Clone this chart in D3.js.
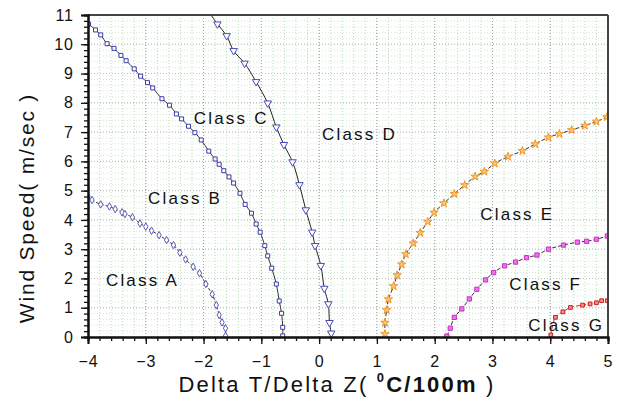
<!DOCTYPE html>
<html><head><meta charset="utf-8">
<script src="https://cdn.jsdelivr.net/npm/d3@7"></script>
<style>
html,body{margin:0;padding:0;background:#fff;}
svg{display:block;font-family:"Liberation Sans",Arial,sans-serif;}
</style></head>
<body><svg id="c" width="618" height="402"></svg>
<script>
// ---- data ----
const xTicks = [-4,-3,-2,-1,0,1,2,3,4,5];
const yTicks = [0,1,2,3,4,5,6,7,8,9,10,11];

const classAx = [-4.00,-3.93,-3.78,-3.63,-3.53,-3.41,-3.36,-3.23,-3.10,-3.00,-2.90,-2.77,-2.64,-2.52,-2.41,-2.31,-2.18,-2.07,-1.96,-1.85,-1.78,-1.73,-1.68,-1.62,-1.62];
const classAy = [4.80,4.68,4.53,4.46,4.37,4.26,4.20,4.09,3.88,3.77,3.63,3.48,3.31,3.14,2.88,2.65,2.40,2.18,1.81,1.46,1.09,0.75,0.50,0.30,0.04];

const classBx = [-3.99,-3.87,-3.78,-3.67,-3.55,-3.43,-3.34,-3.20,-3.09,-2.97,-2.88,-2.72,-2.59,-2.47,-2.38,-2.26,-2.15,-2.04,-1.91,-1.80,-1.73,-1.65,-1.56,-1.48,-1.37,-1.28,-1.17,-1.09,-1.02,-0.94,-0.89,-0.82,-0.74,-0.69,-0.65,-0.63,-0.63];
const classBy = [10.69,10.49,10.32,10.02,9.86,9.62,9.44,9.16,8.91,8.69,8.51,8.14,7.92,7.62,7.45,7.20,6.98,6.73,6.35,6.08,5.90,5.68,5.47,5.26,4.91,4.53,4.23,3.86,3.58,3.12,2.77,2.35,1.81,1.23,0.81,0.33,0.04];

const classCx = [-1.87,-1.76,-1.60,-1.48,-1.29,-1.09,-0.89,-0.74,-0.61,-0.46,-0.34,-0.23,-0.12,-0.07,0.03,0.09,0.16,0.18,0.21];
const classCy = [11.0,10.69,10.29,9.78,9.35,8.72,7.99,7.17,6.57,5.98,5.20,4.34,3.58,3.12,2.44,1.66,1.13,0.49,0.13];

const classEx = [1.14,1.14,1.17,1.20,1.29,1.35,1.43,1.50,1.63,1.75,1.88,1.99,2.16,2.34,2.52,2.70,2.86,3.04,3.27,3.52,3.74,3.97,4.16,4.37,4.60,4.80,4.98];
const classEy = [0.10,0.49,0.92,1.29,1.74,2.11,2.48,2.83,3.20,3.56,3.94,4.25,4.57,4.89,5.19,5.48,5.65,5.93,6.16,6.36,6.59,6.82,6.94,7.07,7.22,7.36,7.51];

const classFx = [2.21,2.27,2.34,2.47,2.60,2.73,2.88,3.02,3.21,3.40,3.59,3.77,3.97,4.23,4.47,4.63,4.80,4.99];
const classFy = [0.03,0.30,0.67,0.96,1.30,1.63,1.95,2.20,2.43,2.56,2.71,2.80,3.00,3.14,3.24,3.27,3.34,3.45];

const classGx = [4.01,4.09,4.22,4.35,4.56,4.69,4.80,4.89,4.99];
const classGy = [0.07,0.67,0.86,1.01,1.09,1.13,1.17,1.24,1.24];

const classLabels = ["Class A","Class B","Class C","Class D","Class E","Class F","Class G"];
const labelX = [-3.69,-2.96,-2.17,0.05,2.79,3.29,3.62];
const labelY = [1.74,4.54,7.28,6.73,4.0,1.6,0.2];

// ---- layout ----
const svg = d3.select("#c");
const L = 88, R = 608, T = 15, B = 337;
const x = d3.scaleLinear().domain([-4,5]).range([L,R]);
const y = d3.scaleLinear().domain([0,11]).range([B,T]);

// grid
const g = svg.append("g");
const minorX = d3.range(-4, 5.001, 0.2);
const minorY = d3.range(0, 11.001, 0.2);
g.selectAll(".gx").data(minorX).enter().append("line")
  .attr("x1",d=>x(d)).attr("x2",d=>x(d)).attr("y1",T).attr("y2",B)
  .attr("stroke","#b5e0b5").attr("stroke-width",1).attr("stroke-dasharray","1,2");
g.selectAll(".gy").data(minorY).enter().append("line")
  .attr("y1",d=>y(d)).attr("y2",d=>y(d)).attr("x1",L).attr("x2",R)
  .attr("stroke","#cfe8cf").attr("stroke-width",1).attr("stroke-dasharray","1,2");
g.selectAll(".gxm").data(xTicks).enter().append("line")
  .attr("x1",d=>x(d)).attr("x2",d=>x(d)).attr("y1",T).attr("y2",B)
  .attr("stroke","#a0a0a0").attr("stroke-width",1).attr("stroke-dasharray","1,2");
g.selectAll(".gym").data(yTicks).enter().append("line")
  .attr("y1",d=>y(d)).attr("y2",d=>y(d)).attr("x1",L).attr("x2",R)
  .attr("stroke","#b8b8b8").attr("stroke-width",1).attr("stroke-dasharray","1,2");

// clip
svg.append("clipPath").attr("id","clip").append("rect")
  .attr("x",L).attr("y",T).attr("width",R-L).attr("height",B-T);
const plot = svg.append("g").attr("clip-path","url(#clip)");

const lineX = d3.line().x(d=>x(d[0])).y(d=>y(d[1])).curve(d3.curveCatmullRom);
function zip(a,b){return a.map((v,i)=>[v,b[i]]);}

const series = [
  {xs:classAx, ys:classAy, stroke:"#333", dash:"3,2", mk:"diamond", col:"#5a5ab8", fill:"#fff", sz:16},
  {xs:classBx, ys:classBy, stroke:"#333", dash:null, mk:"square", col:"#3c3ca8", fill:"#fff", sz:16},
  {xs:classCx, ys:classCy, stroke:"#222", dash:null, mk:"tri", col:"#4a4ab8", fill:"#fff", sz:24},
  {xs:classEx, ys:classEy, stroke:"#333", dash:"4,2", mk:"star", col:"#f0962a", fill:"#f8c57a", sz:22},
  {xs:classFx, ys:classFy, stroke:"#333", dash:"4,2", mk:"square", col:"#c82cc8", fill:"#e878e8", sz:18},
  {xs:classGx, ys:classGy, stroke:"#d03030", dash:"4,2", mk:"square", col:"#d02020", fill:"#f09090", sz:14}
];
const symMap = {diamond:d3.symbolDiamond, square:d3.symbolSquare, tri:d3.symbolTriangle, star:d3.symbolStar};

series.forEach(s=>{
  const pts = zip(s.xs,s.ys);
  plot.append("path").attr("d", lineX(pts)).attr("fill","none")
    .attr("stroke",s.stroke).attr("stroke-width",1)
    .attr("stroke-dasharray",s.dash);
  plot.selectAll(null).data(pts.filter(p=>p[1]<10.9)).enter().append("path")
    .attr("d", d3.symbol().type(symMap[s.mk]).size(s.sz)())
    .attr("transform", d=>`translate(${x(d[0])},${y(d[1])})` + (s.mk==="tri"?" rotate(180)":""))
    .attr("fill",s.fill).attr("stroke",s.col).attr("stroke-width",1);
});

// frame top/right
svg.append("line").attr("x1",L).attr("x2",R).attr("y1",T).attr("y2",T).attr("stroke","#444").attr("stroke-width",2);
svg.append("line").attr("x1",R).attr("x2",R).attr("y1",T).attr("y2",B).attr("stroke","#444").attr("stroke-width",2);

// axes
const xMinor = svg.append("g").attr("transform",`translate(0,${B})`)
  .call(d3.axisBottom(x).tickValues(minorX).tickSize(4).tickFormat(""));
const yMinor = svg.append("g").attr("transform",`translate(${L},0)`)
  .call(d3.axisLeft(y).tickValues(minorY).tickSize(4).tickFormat(""));
const xAx = svg.append("g").attr("transform",`translate(0,${B})`)
  .call(d3.axisBottom(x).tickValues(xTicks).tickSize(7).tickPadding(5).tickFormat(d3.format("d")));
const yAx = svg.append("g").attr("transform",`translate(${L},0)`)
  .call(d3.axisLeft(y).tickValues(yTicks).tickSize(7).tickPadding(5).tickFormat(d3.format("d")));
[xMinor,yMinor,xAx,yAx].forEach(a=>{
  a.select(".domain").attr("stroke","#111").attr("stroke-width",2);
  a.selectAll(".tick line").attr("stroke","#111").attr("stroke-width",1.3);
});
xAx.selectAll("text").attr("font-size",16).attr("fill","#111").attr("dy","1.1em")
  .attr("font-family","Liberation Sans, Arial, sans-serif").attr("letter-spacing","1px");
yAx.selectAll("text").attr("font-size",16).attr("fill","#111").attr("dx","-2px")
  .attr("font-family","Liberation Sans, Arial, sans-serif").attr("letter-spacing","1px");

// class labels
svg.append("g").selectAll("text").data(classLabels).enter().append("text")
  .attr("x",(d,i)=>x(labelX[i])).attr("y",(d,i)=>y(labelY[i]))
  .attr("font-size",17).attr("letter-spacing","2.2px").attr("fill","#111").text(d=>d);

// axis titles
svg.append("text").attr("transform",`translate(34,208) rotate(-90)`)
  .attr("text-anchor","middle").attr("font-size",21).attr("letter-spacing","1.8px").attr("fill","#111")
  .text("Wind Speed( m/sec )");
const xt = svg.append("text").attr("x",337).attr("y",392).attr("text-anchor","middle")
  .attr("font-size",22).attr("letter-spacing","2.2px").attr("fill","#111");
xt.append("tspan").text("Delta T/Delta Z( ");
xt.append("tspan").attr("font-size",13).attr("font-weight","bold").attr("dy",-10).text("0");
xt.append("tspan").attr("font-weight","bold").attr("dy",10).text("C/100m");
xt.append("tspan").text(" )");
</script></body></html>
